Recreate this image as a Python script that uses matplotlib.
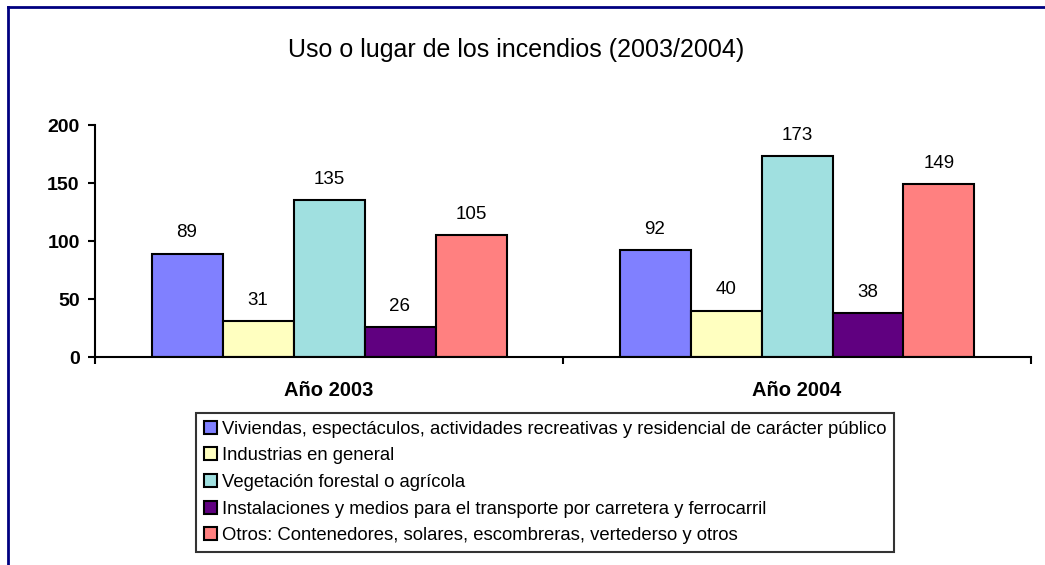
import matplotlib
matplotlib.use("Agg")
import matplotlib.pyplot as plt
from matplotlib.lines import Line2D
import numpy as np

plt.rcParams['font.family'] = ['Liberation Sans', 'DejaVu Sans']

title = "Uso o lugar de los incendios (2003/2004)"
categories = ["Año 2003", "Año 2004"]
series_names = [
    "Viviendas, espectáculos, actividades recreativas y residencial de carácter público",
    "Industrias en general",
    "Vegetación forestal o agrícola",
    "Instalaciones y medios para el transporte por carretera y ferrocarril",
    "Otros: Contenedores, solares, escombreras, vertederso y otros",
]
values_2003 = [89, 31, 135, 26, 105]
values_2004 = [92, 40, 173, 38, 149]
colors = ["#8080FF", "#FFFFC0", "#A0E0E0", "#600080", "#FF8080"]
yticks = [0, 50, 100, 150, 200]

W, H = 1045, 565
fig = plt.figure(figsize=(W / 100, H / 100), dpi=100)
ax = fig.add_axes([95 / W, 1 - 357 / H, (1031 - 95) / W, (357 - 125) / H])

x = np.arange(len(categories))
bw = 355 / 468 / 5
data = np.array([values_2003, values_2004]).T
handles = []
for i, (name, vals, c) in enumerate(zip(series_names, data, colors)):
    pos = x - 2.5 * bw + bw / 2 + i * bw
    b = ax.bar(pos, vals, width=bw, color=c, edgecolor='black', linewidth=1.5, label=name, zorder=2)
    handles.append(b)
    for p, v in zip(pos, vals):
        ax.annotate(str(v), (p, v), xytext=(0, 15), textcoords='offset points',
                    ha='center', va='center', fontsize=13.5)

ax.set_xlim(-0.5, 1.5)
ax.set_ylim(0, 200)
ax.set_yticks(yticks)
ax.set_yticklabels([str(t) for t in yticks], fontweight='bold', fontsize=14)
ax.set_xticks(x)
ax.set_xticklabels(categories, fontweight='bold', fontsize=14.5)
ax.tick_params(axis='x', which='major', length=0, pad=17)
ax.set_xticks([-0.5, 0.5, 1.5], minor=True)
ax.tick_params(axis='x', which='minor', length=5, width=1.5, direction='out')
ax.tick_params(axis='y', length=5, width=1.5, direction='out', pad=6)
for s in ['top', 'right']:
    ax.spines[s].set_visible(False)
for s in ['left', 'bottom']:
    ax.spines[s].set_linewidth(1.5)

fig.text(516 / W, 1 - 50 / H, title, ha='center', va='center', fontsize=18)

leg = fig.legend(handles=handles, labels=series_names, loc='upper left',
                 bbox_to_anchor=(196 / W, 1 - 413 / H), fontsize=13.3,
                 frameon=True, fancybox=False, edgecolor='black',
                 handlelength=0.7, handleheight=0.7, handletextpad=0.3,
                 labelspacing=0.52, borderpad=0.42, borderaxespad=0)
leg.get_frame().set_linewidth(1.5)

# figure border (dark blue) on top and left
fig.add_artist(Line2D([8 / W, 8 / W], [0, 1 - 7 / H], color='#000080', lw=2, transform=fig.transFigure))
fig.add_artist(Line2D([8 / W, 1], [1 - 7 / H, 1 - 7 / H], color='#000080', lw=2, transform=fig.transFigure))

fig.savefig("out.png", dpi=100)
